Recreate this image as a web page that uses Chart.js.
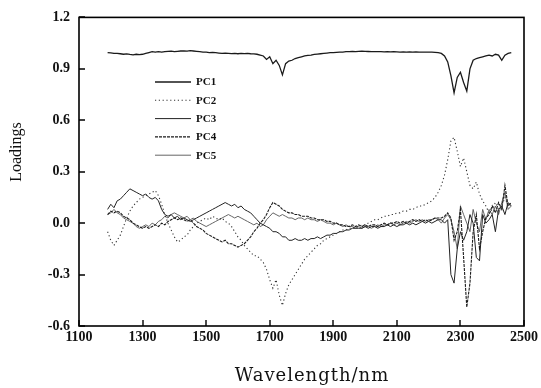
<!DOCTYPE html>
<html>
<head>
<meta charset="utf-8">
<script src="https://cdn.jsdelivr.net/npm/chart.js@4.4.1/dist/chart.umd.min.js"></script>
<style>
html,body{margin:0;padding:0;background:#fff;}
#wrap{width:541px;height:388px;}
</style>
</head>
<body>
<div id="wrap"><canvas id="c" width="541" height="388"></canvas></div>
<script>
// Wavelength grid (nm)
const wavelengths = [
1190,1200,1210,1220,1230,1240,1250,1260,1270,1280,
1290,1300,1310,1320,1330,1340,1350,1360,1370,1380,
1390,1400,1410,1420,1430,1440,1450,1460,1470,1480,
1490,1500,1510,1520,1530,1540,1550,1560,1570,1580,
1590,1600,1610,1620,1630,1640,1650,1660,1670,1680,
1690,1700,1710,1720,1730,1740,1750,1760,1770,1780,
1790,1800,1810,1820,1830,1840,1850,1860,1870,1880,
1890,1900,1910,1920,1930,1940,1950,1960,1970,1980,
1990,2000,2010,2020,2030,2040,2050,2060,2070,2080,
2090,2100,2110,2120,2130,2140,2150,2160,2170,2180,
2190,2200,2210,2220,2230,2240,2250,2260,2270,2280,
2290,2300,2310,2320,2330,2340,2350,2360,2370,2380,
2390,2400,2410,2420,2430,2440,2450,2460];

const pc1 = [
0.995,0.993,0.99,0.99,0.988,0.985,0.987,0.984,0.982,0.985,
0.983,0.985,0.99,0.995,1.0,0.998,1.0,0.997,1.0,1.002,
1.003,1.0,1.002,1.004,1.005,1.003,1.006,1.004,1.002,1.0,
0.998,0.997,0.995,0.996,0.994,0.992,0.99,0.991,0.99,0.989,
0.99,0.988,0.99,0.989,0.99,0.988,0.987,0.985,0.98,0.975,
0.955,0.97,0.93,0.95,0.92,0.865,0.93,0.945,0.95,0.96,
0.965,0.97,0.975,0.978,0.98,0.984,0.986,0.988,0.99,0.992,
0.994,0.995,0.996,0.997,0.998,1.0,1.0,1.001,1.0,1.002,
1.003,1.002,1.001,1.0,1.0,1.0,1.0,0.999,1.0,0.999,
1.0,0.999,0.998,0.999,0.998,0.999,0.998,0.999,0.998,0.998,
0.998,0.997,0.997,0.996,0.995,0.99,0.975,0.94,0.86,0.76,
0.85,0.88,0.82,0.77,0.9,0.95,0.96,0.965,0.97,0.975,
0.98,0.975,0.985,0.98,0.95,0.98,0.99,0.995];

const pc2 = [
-0.05,-0.1,-0.13,-0.1,-0.07,-0.02,0.03,0.07,0.1,0.12,
0.14,0.15,0.16,0.17,0.18,0.19,0.16,0.11,0.05,0.0,
-0.04,-0.08,-0.11,-0.1,-0.08,-0.07,-0.04,-0.02,0.0,0.01,
0.02,0.03,0.02,0.04,0.03,0.02,0.03,0.01,0.0,-0.02,
-0.05,-0.08,-0.1,-0.13,-0.15,-0.17,-0.19,-0.19,-0.21,-0.23,
-0.27,-0.33,-0.38,-0.33,-0.42,-0.48,-0.41,-0.36,-0.33,-0.3,
-0.27,-0.24,-0.21,-0.19,-0.17,-0.15,-0.13,-0.12,-0.1,-0.09,
-0.08,-0.07,-0.06,-0.05,-0.04,-0.04,-0.03,-0.03,-0.02,-0.02,
-0.01,-0.01,0.0,0.01,0.02,0.02,0.03,0.04,0.04,0.05,
0.05,0.06,0.06,0.07,0.07,0.08,0.08,0.09,0.1,0.1,
0.11,0.12,0.13,0.15,0.18,0.22,0.28,0.37,0.48,0.5,
0.42,0.33,0.38,0.3,0.22,0.2,0.24,0.17,0.13,0.1,
0.06,0.08,0.12,0.08,0.1,0.15,0.1,0.12];

const pc3 = [
0.08,0.11,0.09,0.13,0.14,0.16,0.18,0.2,0.19,0.18,
0.17,0.16,0.17,0.15,0.14,0.15,0.13,0.08,0.05,0.04,
0.05,0.03,0.04,0.02,0.03,0.02,0.01,0.02,0.03,0.04,
0.05,0.06,0.07,0.08,0.09,0.1,0.11,0.12,0.11,0.1,
0.11,0.09,0.1,0.08,0.07,0.06,0.04,0.02,0.0,-0.01,
-0.02,-0.03,-0.05,-0.05,-0.06,-0.08,-0.08,-0.1,-0.1,-0.09,
-0.1,-0.1,-0.09,-0.1,-0.09,-0.09,-0.08,-0.09,-0.08,-0.07,
-0.07,-0.06,-0.06,-0.05,-0.05,-0.04,-0.04,-0.03,-0.03,-0.03,
-0.03,-0.02,-0.03,-0.02,-0.02,-0.03,-0.02,-0.02,-0.01,-0.02,
-0.01,-0.02,-0.01,-0.01,0.0,-0.01,0.0,-0.01,0.0,0.01,
0.0,0.01,0.0,0.01,0.02,0.02,0.0,0.02,-0.3,-0.35,
-0.15,-0.05,-0.1,-0.05,0.05,0.0,-0.2,-0.22,0.05,0.0,
0.02,0.05,-0.05,0.08,0.1,0.05,0.12,0.1];

const pc4 = [
0.05,0.07,0.06,0.07,0.06,0.04,0.03,0.02,0.0,-0.01,
-0.02,-0.03,-0.02,-0.03,-0.02,-0.01,-0.02,0.0,-0.01,0.01,
0.02,0.03,0.02,0.03,0.02,0.01,0.02,0.0,-0.02,-0.03,
-0.04,-0.06,-0.07,-0.08,-0.09,-0.1,-0.11,-0.1,-0.12,-0.12,
-0.13,-0.14,-0.13,-0.12,-0.1,-0.08,-0.05,-0.03,0.0,0.02,
0.05,0.09,0.12,0.11,0.1,0.08,0.07,0.06,0.06,0.05,
0.05,0.04,0.04,0.04,0.03,0.03,0.02,0.02,0.02,0.01,
0.01,0.0,0.0,-0.01,-0.01,-0.02,-0.02,-0.01,-0.02,-0.01,
-0.02,-0.01,-0.02,-0.01,-0.01,-0.02,-0.01,0.0,-0.01,0.0,
0.0,0.01,0.0,0.01,0.0,0.01,0.02,0.01,0.02,0.01,
0.02,0.01,0.02,0.03,0.03,0.03,0.04,0.06,0.03,-0.1,
-0.05,0.08,-0.2,-0.49,-0.35,-0.05,0.05,-0.15,-0.05,0.03,
0.05,0.1,0.06,0.12,0.08,0.22,0.1,0.12];

const pc5 = [
0.05,0.06,0.08,0.06,0.05,0.03,0.02,0.01,0.0,-0.02,
-0.03,-0.02,-0.01,-0.02,0.0,-0.01,0.01,0.02,0.04,0.03,
0.05,0.06,0.05,0.04,0.03,0.04,0.02,0.03,0.01,0.0,
-0.01,-0.02,-0.01,0.0,0.01,0.02,0.03,0.04,0.05,0.04,
0.03,0.04,0.03,0.02,0.01,0.0,-0.01,0.0,-0.02,-0.01,
0.02,0.04,0.06,0.05,0.04,0.05,0.04,0.03,0.03,0.02,
0.03,0.03,0.02,0.03,0.02,0.02,0.01,0.02,0.01,0.0,
0.0,-0.01,0.0,-0.01,-0.02,-0.01,-0.02,-0.02,-0.03,-0.02,
-0.03,-0.02,-0.02,-0.03,-0.02,-0.01,-0.02,-0.01,-0.01,0.0,
-0.01,0.0,-0.01,0.0,0.01,0.0,0.01,0.02,0.01,0.02,
0.01,0.02,0.02,0.03,0.02,0.0,0.03,0.05,0.02,-0.05,
-0.15,0.1,0.05,0.0,-0.05,0.08,0.0,-0.05,0.08,0.02,
0.08,0.05,0.1,0.05,0.12,0.18,0.08,0.1];

const seriesNames = ['PC1','PC2','PC3','PC4','PC5'];
const xTicks = [1100,1300,1500,1700,1900,2100,2300,2500];
const yTicks = [-0.6,-0.3,0.0,0.3,0.6,0.9,1.2];
const xTitle = 'Wavelength/nm';
const yTitle = 'Loadings';

const toPts = arr => arr.map((v,i)=>({x:wavelengths[i], y:v}));

const styles = [
  {borderColor:'#1a1a1a', borderWidth:1.3, borderDash:[]},
  {borderColor:'#333', borderWidth:1.1, borderDash:[1.2,2.6]},
  {borderColor:'#222', borderWidth:1.0, borderDash:[]},
  {borderColor:'#1a1a1a', borderWidth:1.1, borderDash:[3,1]},
  {borderColor:'#555', borderWidth:0.9, borderDash:[]}
];
const allData = [pc1,pc2,pc3,pc4,pc5];

const serif = "'Liberation Serif','DejaVu Serif',serif";
const wideSerif = "'DejaVu Serif','Liberation Serif',serif";

const decor = {
  id:'decor',
  afterDraw(chart){
    const ctx = chart.ctx, a = chart.chartArea;
    const xs = chart.scales.x, ys = chart.scales.y;
    ctx.save();
    ctx.strokeStyle = '#000';
    ctx.lineWidth = 1.6;
    ctx.strokeRect(a.left, a.top, a.right - a.left, a.bottom - a.top);
    ctx.lineWidth = 1.4;
    ctx.beginPath();
    xs.ticks.forEach(t=>{
      const px = Math.round(xs.getPixelForValue(t.value));
      ctx.moveTo(px, a.bottom); ctx.lineTo(px, a.bottom-6);
    });
    ys.ticks.forEach(t=>{
      const py = Math.round(ys.getPixelForValue(t.value));
      ctx.moveTo(a.left, py); ctx.lineTo(a.left+6, py);
    });
    ctx.stroke();
    // legend
    const lx0 = 155, lx1 = 191, tx = 196, ly0 = 82, dy = 18.3;
    chart.data.datasets.forEach((ds,i)=>{
      const y = ly0 + i*dy;
      ctx.beginPath();
      ctx.strokeStyle = ds.borderColor;
      ctx.lineWidth = ds.borderWidth;
      ctx.setLineDash(ds.borderDash||[]);
      ctx.moveTo(lx0, y); ctx.lineTo(lx1, y);
      ctx.stroke();
      ctx.setLineDash([]);
      ctx.fillStyle = '#111';
      ctx.font = "bold 11px " + serif;
      ctx.textBaseline = 'middle';
      ctx.textAlign = 'left';
      ctx.fillText(ds.label, tx, y+0.5);
    });
    // axis titles
    ctx.fillStyle = '#111';
    ctx.font = "18px " + wideSerif;
    ctx.textAlign = 'center';
    ctx.textBaseline = 'middle';
    try { ctx.letterSpacing = '1px'; } catch(e) {}
    ctx.fillText(xTitle, 312, 376);
    try { ctx.letterSpacing = '0px'; } catch(e) {}
    ctx.save();
    ctx.translate(17, 152);
    ctx.rotate(-Math.PI/2);
    ctx.font = "16px " + serif;
    ctx.fillText(yTitle, 0, 0);
    ctx.restore();
    ctx.restore();
  }
};

new Chart(document.getElementById('c'), {
  type:'line',
  data:{
    datasets: allData.map((arr,i)=>Object.assign({
      label: seriesNames[i],
      data: toPts(arr),
      pointRadius:0,
      fill:false,
      tension:0
    }, styles[i]))
  },
  options:{
    responsive:false,
    animation:false,
    devicePixelRatio:1,
    layout:{padding:{left:0, top:15, right:15, bottom:0}},
    plugins:{legend:{display:false}, tooltip:{enabled:false}},
    scales:{
      x:{
        type:'linear', min:1100, max:2500,
        afterBuildTicks: s => { s.ticks = xTicks.map(v=>({value:v})); },
        afterFit: s => { s.height = 62; },
        grid:{display:false, drawTicks:false},
        border:{display:false},
        ticks:{color:'#111', padding:3, maxRotation:0, autoSkip:false,
          font:{family:serif, size:14, weight:'bold'},
          callback: v => String(v)}
      },
      y:{
        type:'linear', min:-0.6, max:1.2,
        afterBuildTicks: s => { s.ticks = yTicks.map(v=>({value:v})); },
        afterFit: s => { s.width = 79; },
        grid:{display:false, drawTicks:false},
        border:{display:false},
        ticks:{color:'#111', padding:9,
          font:{family:serif, size:14, weight:'bold'},
          callback: v => Number(v).toFixed(1)}
      }
    }
  },
  plugins:[decor]
});
</script>
</body>
</html>
